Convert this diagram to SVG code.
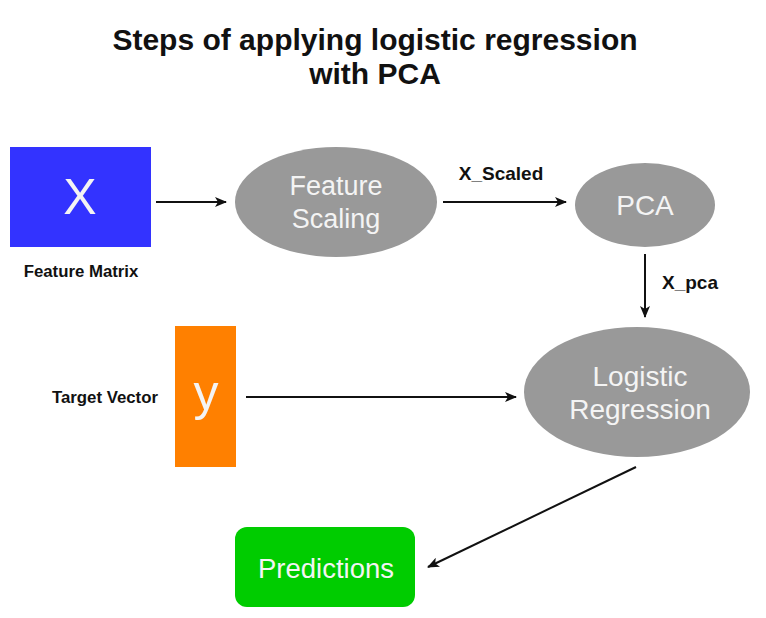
<svg xmlns="http://www.w3.org/2000/svg" width="766" height="618" viewBox="0 0 766 618">
<style>
.t{font-family:"Liberation Sans",Arial,sans-serif;font-weight:bold;fill:#111;}
.w{font-family:"Liberation Sans",Arial,sans-serif;fill:#f4f4f4;text-anchor:middle;}
.e{fill:#999999;}
.c line{stroke:#111;stroke-width:2;marker-end:url(#ah);}
</style>
<defs>
<marker id="ah" viewBox="0 0 12 10" refX="11" refY="5" markerWidth="12" markerHeight="10" markerUnits="userSpaceOnUse" orient="auto">
<path d="M0,0 L12,5 L0,10 L3,5 Z" fill="#111"/>
</marker>
</defs>
<rect width="766" height="618" fill="#fff"/>
<g id="title">
<text class="t" x="375" y="50" font-size="30" text-anchor="middle">Steps of applying logistic regression</text>
<text class="t" x="375" y="84" font-size="30" text-anchor="middle">with PCA</text>
</g>
<g id="featureMatrix">
<rect x="10" y="147" width="141" height="100" fill="#3333ff"/>
<text class="w" x="80" y="214" font-size="50">X</text>
<text class="t" x="81" y="277" font-size="16.8" text-anchor="middle">Feature Matrix</text>
</g>
<g id="featureScaling">
<ellipse class="e" cx="336" cy="202" rx="101" ry="55"/>
<text class="w" x="336" y="195" font-size="27">Feature</text>
<text class="w" x="336" y="228" font-size="27">Scaling</text>
</g>
<g id="pca">
<ellipse class="e" cx="645" cy="205" rx="70" ry="42"/>
<text class="w" x="645" y="215" font-size="28">PCA</text>
</g>
<g id="logReg">
<ellipse class="e" cx="637" cy="392" rx="113" ry="65"/>
<text class="w" x="640" y="386" font-size="28">Logistic</text>
<text class="w" x="640" y="419" font-size="28">Regression</text>
</g>
<g id="targetVector">
<rect x="175" y="326" width="61" height="141" fill="#ff8000"/>
<text class="w" x="206" y="410" font-size="50">y</text>
<text class="t" x="105" y="403" font-size="16.8" text-anchor="middle">Target Vector</text>
</g>
<g id="predictions">
<rect x="235" y="527" width="180" height="80" rx="12" fill="#00cc00"/>
<text class="w" x="326" y="578" font-size="27.5">Predictions</text>
</g>
<g id="connectors" class="c">
<line x1="156" y1="202" x2="226" y2="202"/>
<line x1="443" y1="202" x2="566" y2="202"/>
<line x1="645" y1="254" x2="645" y2="317"/>
<line x1="246" y1="397" x2="516" y2="397"/>
<line x1="636" y1="467" x2="428" y2="567"/>
<text class="t" x="501" y="180" font-size="19" text-anchor="middle" stroke="none">X_Scaled</text>
<text class="t" x="662" y="289" font-size="19" stroke="none">X_pca</text>
</g>
</svg>
